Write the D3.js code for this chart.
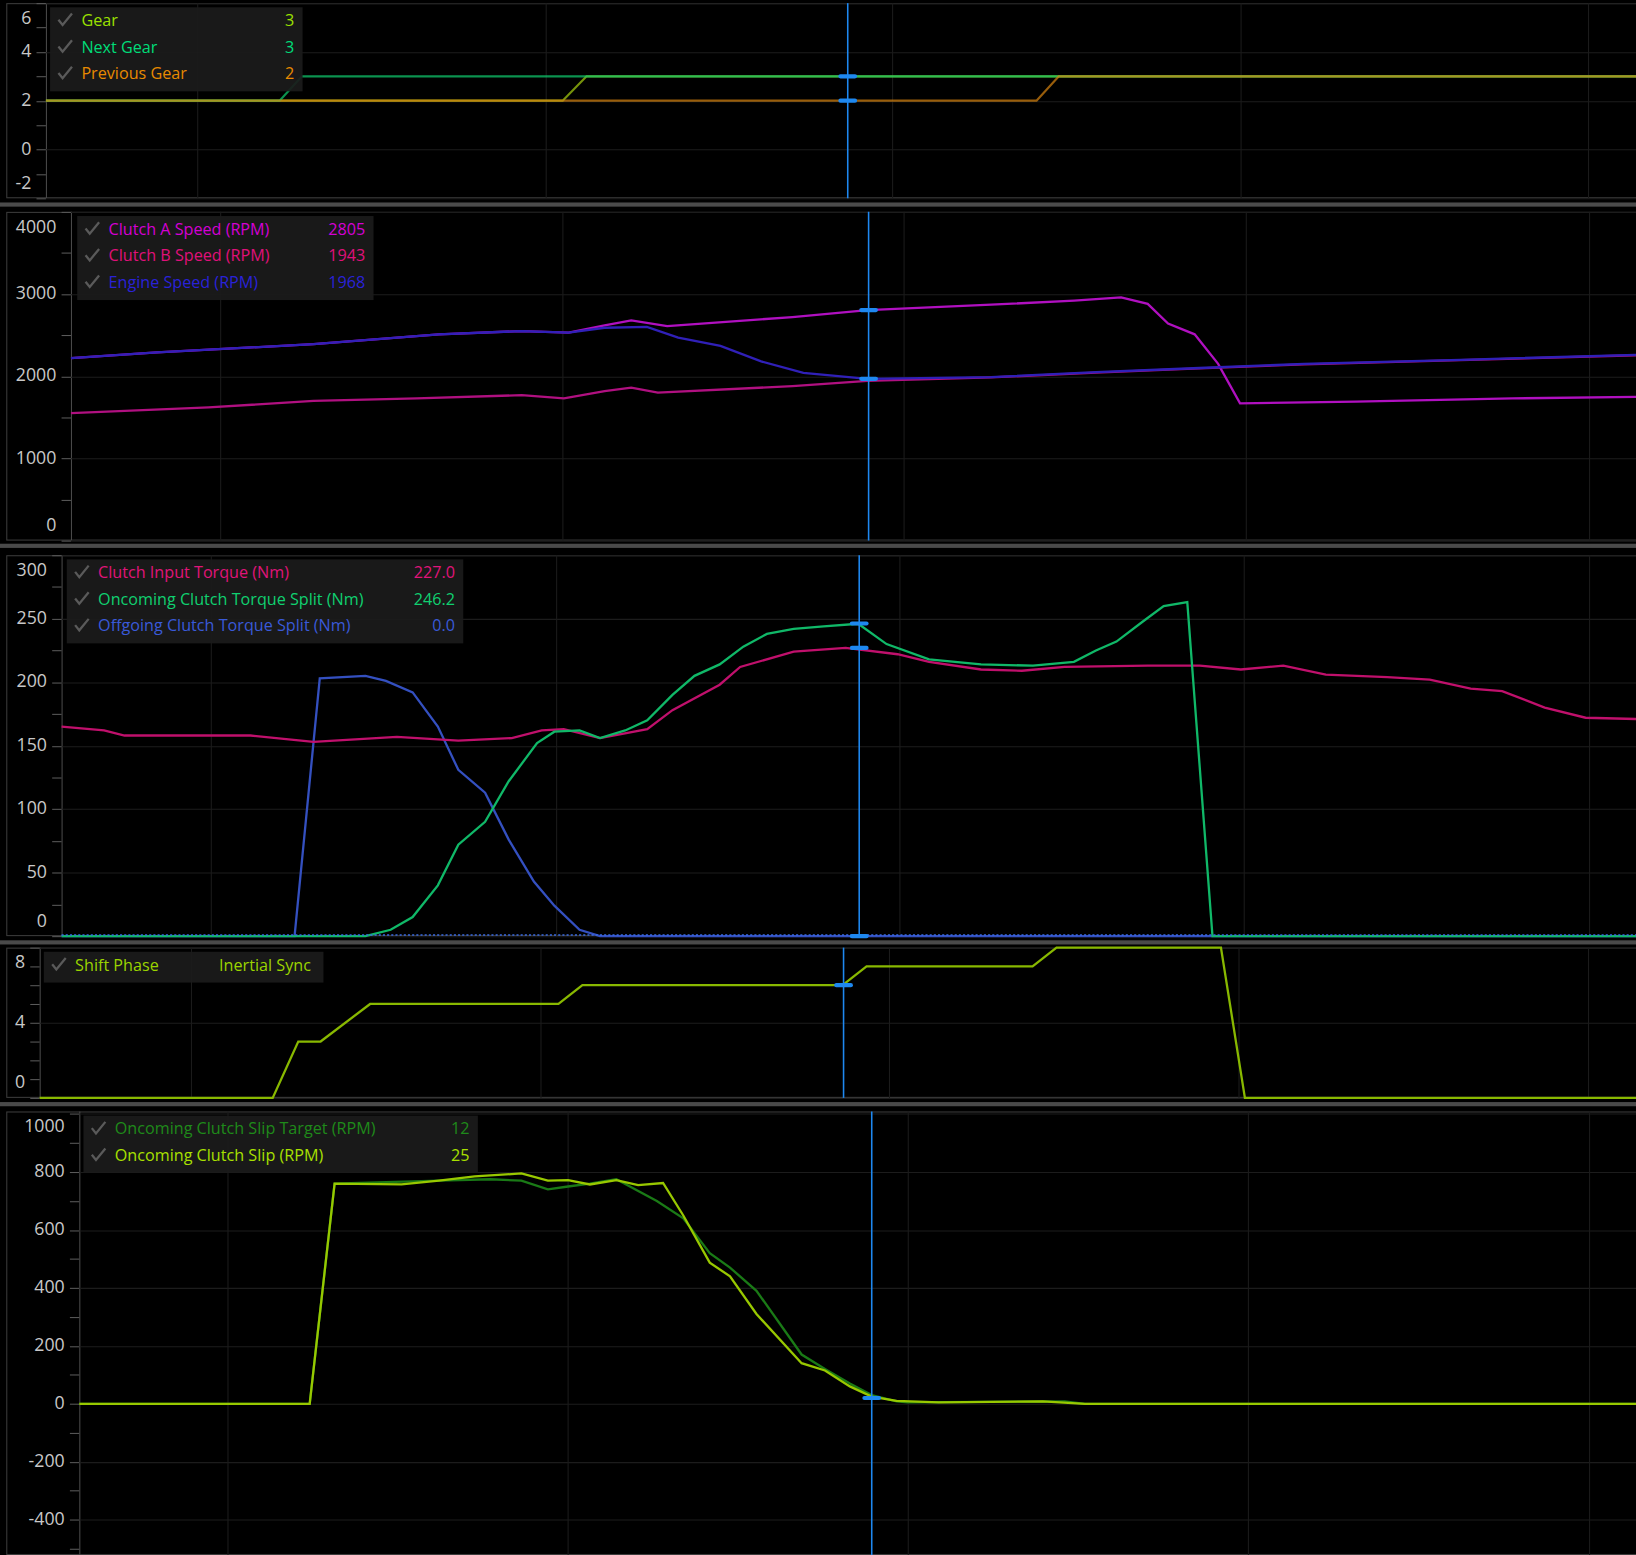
<!DOCTYPE html>
<html>
<head>
<meta charset="utf-8">
<script src="https://cdn.jsdelivr.net/npm/d3@7"></script>
<style>
  body { margin: 0; background: #000; overflow: hidden; }
  text { font-family: "Open Sans", "Noto Sans", sans-serif; }
</style>
</head>
<body>
<svg id="chart"></svg>
<script>
// time axis shared by every panel (0..100), cursor position per panel
const cursorTs = [50.4, 50.9, 50.6, 50.3, 50.9];
const gridT = [9.5, 31.4, 53.2, 75.1, 97];

// panel 1 - gears
const gearT = [0, 32.5, 34, 100];
const gearV = [2, 2, 3, 3];
const nextGearT = [0, 14.7, 16.1, 100];
const nextGearV = [2, 2, 3, 3];
const prevGearT = [0, 62.3, 63.7, 100];
const prevGearV = [2, 2, 3, 3];

// panel 2 - speeds
const clutchAT = [0, 5.5, 15.5, 23.5, 28.8, 31.8, 34.1, 35.8, 38.1, 46.1, 50.9, 58.8, 64.1, 67.1, 68.8, 70.1, 71.8, 73.3, 74.7, 82.1, 92.1, 100];
const clutchAV = [2220, 2290, 2390, 2510, 2550, 2530, 2620, 2680, 2610, 2720, 2805, 2870, 2920, 2960, 2880, 2640, 2510, 2150, 1670, 1690, 1730, 1750];
const engineT = [0, 5.5, 15.5, 23.5, 28.8, 31.8, 34.1, 36.8, 38.8, 41.5, 44.1, 46.8, 50.9, 58.8, 65.5, 72.1, 78.8, 88.8, 100];
const engineV = [2220, 2290, 2390, 2510, 2550, 2530, 2590, 2600, 2470, 2370, 2180, 2040, 1968, 1990, 2050, 2100, 2150, 2200, 2260];
const clutchBT = [0, 8.8, 15.5, 22.1, 28.8, 31.5, 34.1, 35.8, 37.5, 46.1, 50.9, 58.8, 65.5, 72.1, 78.8, 88.8, 100];
const clutchBV = [1550, 1620, 1700, 1730, 1770, 1730, 1820, 1860, 1800, 1880, 1943, 1985, 2045, 2095, 2145, 2195, 2255];

// panel 3 - torques
const inputTqT = [0, 2.7, 4, 12, 16, 21.3, 25.2, 28.6, 30.5, 31.9, 34.2, 37.2, 38.8, 41.8, 43.1, 46.5, 49.8, 53.1, 55.1, 58.4, 61, 63.7, 69, 72.3, 74.9, 77.6, 80.3, 84.2, 86.9, 89.5, 91.5, 94.2, 96.8, 100];
const inputTqV = [165, 162, 158, 158, 153, 157, 154, 156, 162, 163, 156, 163, 178, 198, 212, 224, 227, 222, 216, 210, 209, 212, 213, 213, 210, 213, 206, 204, 202, 195, 193, 180, 172, 171];
const oncomingTqT = [0, 19.3, 20.9, 22.3, 23.9, 25.2, 26.9, 28.4, 30.2, 31.3, 32.9, 34.2, 35.8, 37.2, 38.8, 40.2, 41.8, 43.3, 44.8, 46.5, 48.4, 50.6, 52.4, 55.1, 58.4, 61.7, 64.3, 65.7, 67, 68.7, 70, 71.5, 73.1, 100];
const oncomingTqV = [0, 0, 5, 15, 40, 72, 90, 122, 152, 161, 162, 156, 162, 170, 190, 205, 214, 228, 238, 242, 244, 246, 230, 218, 214, 213, 216, 225, 232, 248, 260, 263, 0, 0];
const offgoingTqT = [0, 14.8, 16.4, 19.3, 20.6, 22.3, 23.9, 25.2, 26.9, 28.4, 30, 31.3, 32.9, 34.2, 100];
const offgoingTqV = [0, 0, 203, 205, 201, 192, 165, 131, 113, 76, 43, 24, 5, 0, 0];

// panel 4 - shift phase
const phaseT = [0, 14.6, 16.2, 17.6, 20.7, 32.5, 34, 50.3, 51.8, 62.2, 63.7, 74, 75.5, 100];
const phaseV = [0, 0, 3, 3, 5, 5, 6, 6, 7, 7, 8, 8, 0, 0];

// panel 5 - slip
const slipT = [0, 14.8, 16.4, 20.7, 23.1, 25.4, 28.4, 30.1, 31.4, 32.8, 34.5, 35.9, 37.5, 38.8, 40.5, 41.8, 43.5, 46.4, 47.9, 49.5, 50.9, 52.5, 55.2, 61.9, 64.6, 100];
const slipV = [0, 0, 760, 757, 770, 785, 795, 770, 772, 757, 772, 755, 762, 650, 487, 440, 310, 140, 115, 60, 25, 10, 5, 8, 0, 0];
const slipTargetT = [0, 14.8, 16.4, 23.1, 26.4, 28.4, 30.1, 31.4, 32.8, 34.5, 37.1, 38.8, 40.5, 41.8, 43.5, 46.4, 47.9, 49.5, 50.9, 52.5, 53.2, 63.3, 64.6, 100];
const slipTargetV = [0, 0, 760, 770, 775, 770, 740, 750, 760, 775, 700, 640, 520, 470, 390, 170, 120, 70, 30, 8, 5, 8, 0, 0];

const W = 1568, H = 1490;
const svg = d3.select("#chart")
	.attr("width", 1636).attr("height", 1555)
	.attr("viewBox", `0 0 ${W} ${H}`)
	.attr("preserveAspectRatio", "none");

const panels = [
	{ top: 3, bottom: 190, left: 44, domain: [-2, 6], minor: d3.range(-2, 7, 1), labels: [-2, 0, 2, 4, 6],
	  legend: { x: 48, w: 242 }, lineOpacity: 0.7,
	  series: [
		{ name: "Gear", t: gearT, v: gearV, color: "#9be000", line: "#a8d010", val: "3" },
		{ name: "Next Gear", t: nextGearT, v: nextGearV, color: "#00dc78", line: "#10d070", val: "3" },
		{ name: "Previous Gear", t: prevGearT, v: prevGearV, color: "#e88a00", line: "#d88410", val: "2" }],
	  draw: [0, 1, 2], markers: [3, 2] },
	{ top: 203, bottom: 518, left: 68, domain: [0, 4000], minor: d3.range(0, 4001, 500), labels: [0, 1000, 2000, 3000, 4000],
	  legend: { x: 74, w: 284 },
	  series: [
		{ name: "Clutch A Speed (RPM)", t: clutchAT, v: clutchAV, color: "#d400d4", line: "#b010c0", val: "2805" },
		{ name: "Clutch B Speed (RPM)", t: clutchBT, v: clutchBV, color: "#e0107a", line: "#b01080", val: "1943" },
		{ name: "Engine Speed (RPM)", t: engineT, v: engineV, color: "#2a22d8", line: "#3020b8", val: "1968" }],
	  draw: [1, 0, 2], markers: [2805, 1968] },
	{ top: 532, bottom: 897, left: 59, domain: [0, 300], minor: d3.range(0, 301, 25), labels: [0, 50, 100, 150, 200, 250, 300],
	  legend: { x: 64, w: 380 },
	  series: [
		{ name: "Clutch Input Torque (Nm)", t: inputTqT, v: inputTqV, color: "#e0147a", line: "#c0106c", val: "227.0" },
		{ name: "Oncoming Clutch Torque Split (Nm)", t: oncomingTqT, v: oncomingTqV, color: "#10d070", line: "#10b868", val: "246.2" },
		{ name: "Offgoing Clutch Torque Split (Nm)", t: offgoingTqT, v: offgoingTqV, color: "#3a5ad8", line: "#3450c0", val: "0.0" }],
	  draw: [2, 0, 1], markers: [246.2, 227, 0], dottedZero: true },
	{ top: 908, bottom: 1052, left: 38, domain: [0, 8], minor: d3.range(0, 9, 1), labels: [0, 4, 8],
	  legend: { x: 42, w: 268 },
	  series: [
		{ name: "Shift Phase", t: phaseT, v: phaseV, color: "#9bd400", line: "#88b800", val: "Inertial Sync", valX: 168 }],
	  draw: [0], markers: [6] },
	{ top: 1065, bottom: 1490, left: 76, domain: [-522, 1009], minor: d3.range(-500, 1001, 100), labels: [-400, -200, 0, 200, 400, 600, 800, 1000],
	  legend: { x: 80, w: 378 },
	  series: [
		{ name: "Oncoming Clutch Slip Target (RPM)", t: slipTargetT, v: slipTargetV, color: "#1f8a1a", line: "#1a7a16", val: "12" },
		{ name: "Oncoming Clutch Slip (RPM)", t: slipT, v: slipV, color: "#a8e000", line: "#98c800", val: "25" }],
	  draw: [0, 1], markers: [20] }
];

// separators between panels
[196, 523, 903, 1058].forEach(y => {
	svg.append("rect").attr("x", 0).attr("y", y - 2).attr("width", W).attr("height", 4).attr("fill", "#4a4a4a");
});

panels.forEach((p, pi) => {
	const g = svg.append("g");
	const x = d3.scaleLinear().domain([0, 100]).range([p.left, W]);
	const y = d3.scaleLinear().domain(p.domain).range([p.bottom, p.top]);

	// frame
	g.append("rect").attr("x", 6.5).attr("y", p.top + 0.5).attr("width", W).attr("height", p.bottom - p.top - 1)
		.attr("fill", "#000").attr("stroke", "#3c3c3c");
	g.append("line").attr("x1", p.left + 0.5).attr("x2", p.left + 0.5).attr("y1", p.top).attr("y2", p.bottom)
		.attr("stroke", "#4a4a4a");

	// grid
	g.selectAll(".hg").data(p.labels).enter().append("line")
		.attr("x1", p.left).attr("x2", W).attr("y1", d => Math.round(y(d)) + 0.5).attr("y2", d => Math.round(y(d)) + 0.5)
		.attr("stroke", "#1c1c1c");
	g.selectAll(".vg").data(gridT).enter().append("line")
		.attr("x1", d => Math.round(x(d)) + 0.5).attr("x2", d => Math.round(x(d)) + 0.5)
		.attr("y1", p.top).attr("y2", p.bottom).attr("stroke", "#1c1c1c");

	// tick marks and labels
	g.selectAll(".tk").data(p.minor).enter().append("line")
		.attr("x1", p.left - 9).attr("x2", p.left).attr("y1", d => Math.round(y(d)) + 0.5).attr("y2", d => Math.round(y(d)) + 0.5)
		.attr("stroke", "#5a5a5a");
	g.selectAll(".tl").data(p.labels).enter().append("text")
		.attr("x", p.left - 14).attr("text-anchor", "end")
		.attr("y", d => Math.max(p.top + 15, Math.min(p.bottom - 14, y(d))) + 5)
		.attr("fill", "#c8c8c8").style("font-size", "17px").text(d => d);

	// lines
	const line = s => d3.line().x((d, i) => x(s.t[i])).y(d => y(d))(s.v);
	p.draw.forEach(i => {
		const s = p.series[i];
		g.append("path").attr("d", line(s)).attr("fill", "none").attr("stroke", s.line)
			.attr("stroke-width", 2.2).attr("stroke-opacity", p.lineOpacity || 1);
	});
	if (p.dottedZero) {
		g.append("line").attr("x1", p.left).attr("x2", W).attr("y1", y(0) - 1).attr("y2", y(0) - 1)
			.attr("stroke", "#3a6ae0").attr("stroke-width", 1.5).attr("stroke-dasharray", "2,2");
	}

	// cursor
	const cx = Math.round(x(cursorTs[pi])) + 0.5;
	g.append("line").attr("x1", cx).attr("x2", cx).attr("y1", p.top).attr("y2", p.bottom)
		.attr("stroke", "#1e88f0").attr("stroke-width", 1.5);
	p.markers.forEach(v => {
		g.append("rect").attr("x", cx - 9).attr("y", y(v) - 2).attr("width", 18).attr("height", 4)
			.attr("rx", 2).attr("fill", "#1e88f0");
	});

	// legend
	const lh = 25.5;
	g.append("rect").attr("x", p.legend.x).attr("y", p.top + 4).attr("width", p.legend.w)
		.attr("height", p.series.length * lh + 4).attr("fill", "#1b1b1b").attr("opacity", 0.92);
	p.series.forEach((s, i) => {
		const ly = p.top + 22 + i * lh;
		g.append("path").attr("d", `M${p.legend.x + 8},${ly - 6} l4,5 l9,-11`)
			.attr("fill", "none").attr("stroke", "#5a5a5a").attr("stroke-width", 2.2);
		g.append("text").attr("x", p.legend.x + 30).attr("y", ly).attr("fill", s.color)
			.style("font-size", "15.5px").text(s.name);
		if (s.valX) {
			g.append("text").attr("x", p.legend.x + s.valX).attr("y", ly).attr("fill", s.color)
				.style("font-size", "15.5px").text(s.val);
		} else {
			g.append("text").attr("x", p.legend.x + p.legend.w - 8).attr("y", ly).attr("text-anchor", "end")
				.attr("fill", s.color).style("font-size", "15.5px").text(s.val);
		}
	});
});
</script>
</body>
</html>
